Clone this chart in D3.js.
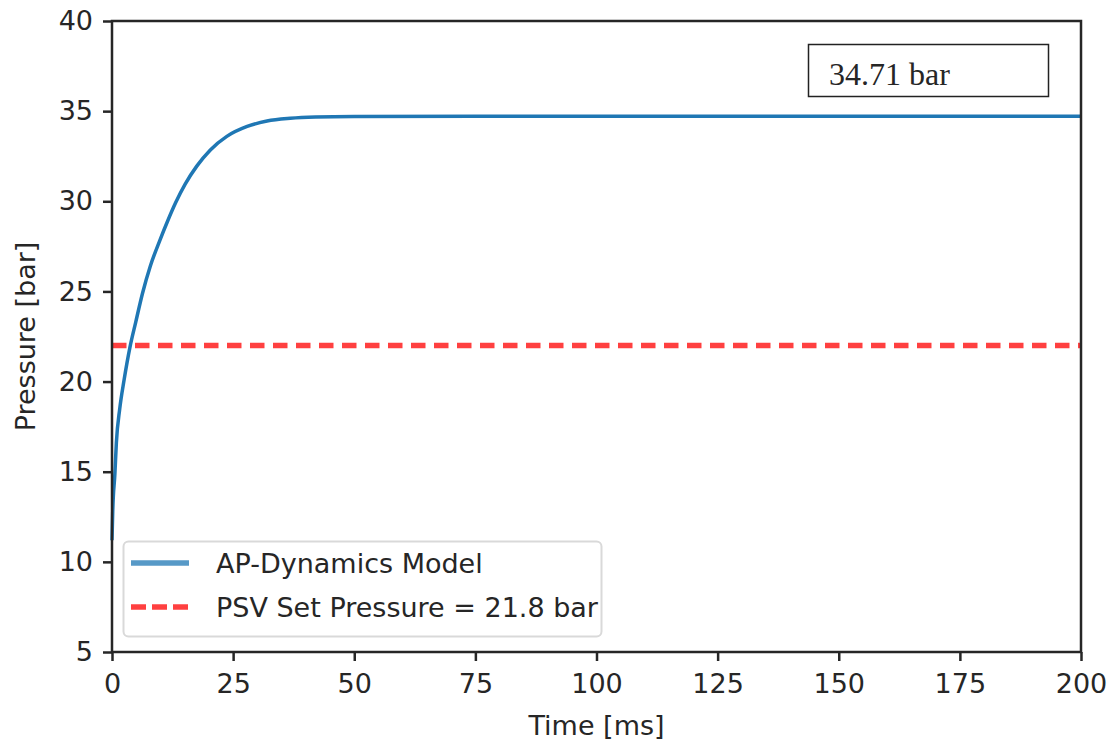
<!DOCTYPE html>
<html>
<head>
<meta charset="utf-8">
<script src="https://cdn.jsdelivr.net/npm/d3@7"></script>
<style>
  body { margin: 0; background: #fff; }
  text { font-family: "DejaVu Sans", sans-serif; fill: #262626; }
</style>
</head>
<body>
<svg id="chart" width="1108" height="747"></svg>
<script>
// values
var timeMs   = [0, 0.15, 0.6, 0.9, 1.6, 2.5, 3.7, 4.9, 6.3, 7.9, 9.9, 11.4, 13.1, 15.1, 17.5, 20.3, 23.7, 27.9, 32.0, 36.8, 42, 50, 75, 100, 150, 200];
var pressure = [11.2, 12.8, 14.9, 16.6, 18.5, 20.1, 21.9, 23.3, 24.9, 26.4, 27.85, 28.85, 29.9, 30.95, 31.95, 32.85, 33.6, 34.15, 34.45, 34.6, 34.67, 34.7, 34.71, 34.71, 34.71, 34.71];
var setLine  = 22.0;
var xTicks = [0, 25, 50, 75, 100, 125, 150, 175, 200];
var yTicks = [5, 10, 15, 20, 25, 30, 35, 40];
var legendLabels = ['AP-Dynamics Model', 'PSV Set Pressure = 21.8 bar'];
var noteText = '34.71 bar';

var svg = d3.select('#chart');
var mLeft = 112, mRight = 1081, mTop = 21, mBottom = 652;

var x = d3.scaleLinear().domain([0, 200]).range([mLeft, mRight]);
var y = d3.scaleLinear().domain([5, 40]).range([mBottom, mTop]);

var fs = '27px';

// data lines
var line = d3.line()
  .x(function(d) { return x(d[0]); })
  .y(function(d) { return y(d[1]); })
  .curve(d3.curveMonotoneX);

svg.append('path')
  .datum(d3.zip(timeMs, pressure))
  .attr('d', line)
  .style('fill', 'none')
  .attr('stroke', '#1f77b4')
  .attr('stroke-width', 3.5);

svg.append('line')
  .attr('x1', x(0)).attr('x2', x(200))
  .attr('y1', y(setLine)).attr('y2', y(setLine))
  .attr('stroke', 'red')
  .attr('stroke-opacity', 0.75)
  .attr('stroke-width', 5.5)
  .attr('stroke-dasharray', '14.5,8.5');

// axes
var xAxis = d3.axisBottom(x).tickValues(xTicks).tickSize(9).tickPadding(10);
var yAxis = d3.axisLeft(y).tickValues(yTicks).tickSize(9).tickPadding(10);

var gx = svg.append('g').attr('transform', 'translate(0,' + mBottom + ')').call(xAxis);
var gy = svg.append('g').attr('transform', 'translate(' + mLeft + ',0)').call(yAxis);
[gx, gy].forEach(function(g) {
  g.select('.domain').remove();
  g.selectAll('.tick line').attr('stroke', '#262626').attr('stroke-width', 2.5);
  g.selectAll('.tick text').style('font-size', fs).style('font-family', '"DejaVu Sans", sans-serif').attr('fill', '#262626');
});
gx.selectAll('.tick text').attr('dy', '0.72em').attr('y', 22);

// frame
svg.append('rect')
  .attr('x', mLeft).attr('y', mTop)
  .attr('width', mRight - mLeft).attr('height', mBottom - mTop)
  .attr('fill', 'none')
  .attr('stroke', '#262626')
  .attr('stroke-width', 2.5);

// axis labels
svg.append('text')
  .attr('x', (mLeft + mRight) / 2).attr('y', 735)
  .attr('text-anchor', 'middle')
  .style('font-size', fs)
  .text('Time [ms]');

svg.append('text')
  .attr('transform', 'translate(35,' + (mTop + mBottom) / 2 + ') rotate(-90)')
  .attr('text-anchor', 'middle')
  .style('font-size', fs)
  .text('Pressure [bar]');

// legend
var lg = svg.append('g');
lg.append('rect')
  .attr('x', 123.5).attr('y', 541.5)
  .attr('width', 478).attr('height', 95)
  .attr('rx', 5)
  .attr('fill', 'white').attr('fill-opacity', 0.8)
  .attr('stroke', '#d9d9d9').attr('stroke-width', 2);

var keyStyles = [
  { color: '#1f77b4', opacity: 0.75, dash: null },
  { color: 'red', opacity: 0.75, dash: '15,6' }
];
legendLabels.forEach(function(label, i) {
  var ly = 563 + i * 44;
  lg.append('line')
    .attr('x1', 131).attr('x2', 189)
    .attr('y1', ly).attr('y2', ly)
    .attr('stroke', keyStyles[i].color)
    .attr('stroke-opacity', keyStyles[i].opacity)
    .attr('stroke-width', 5.5)
    .attr('stroke-dasharray', keyStyles[i].dash);
  lg.append('text')
    .attr('x', 216).attr('y', ly + 10)
    .style('font-size', fs)
    .text(label);
});

// annotation box
svg.append('rect')
  .attr('x', 808.5).attr('y', 44.5)
  .attr('width', 240).attr('height', 52)
  .attr('fill', 'white')
  .attr('stroke', '#222').attr('stroke-width', 1.5);

svg.append('text')
  .attr('x', 829).attr('y', 85)
  .style('font-family', '"Liberation Serif", "DejaVu Serif", serif')
  .style('font-size', '32px')
  .attr('fill', '#111')
  .text(noteText);
</script>
</body>
</html>
